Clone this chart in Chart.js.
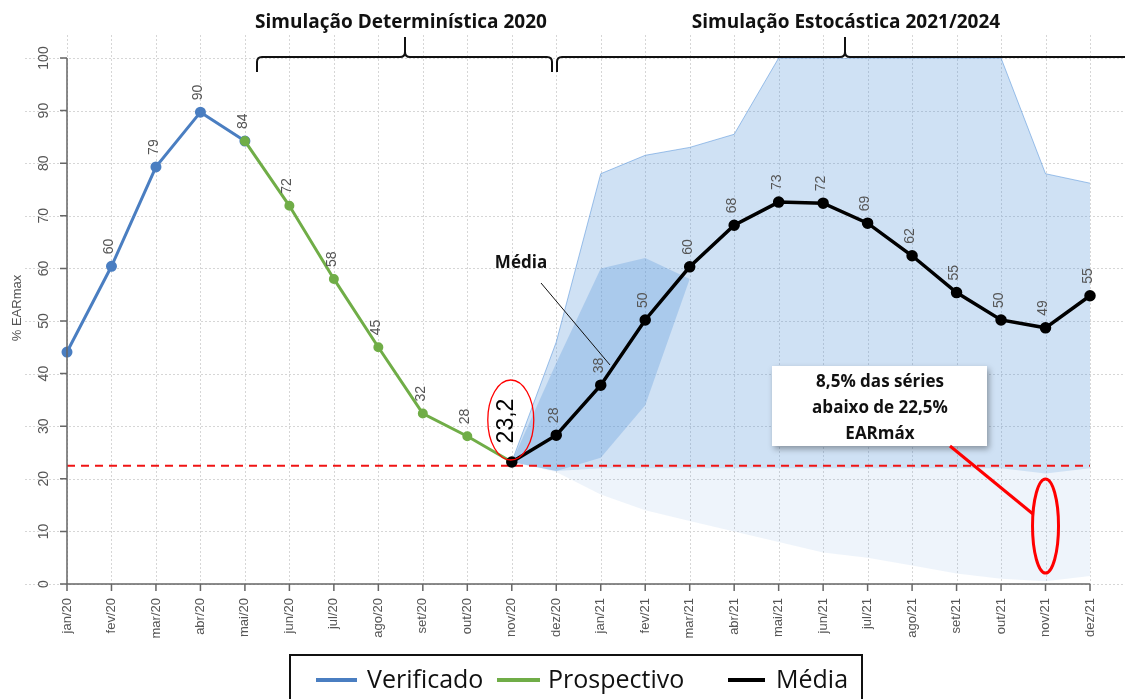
<!DOCTYPE html>
<html>
<head>
<meta charset="utf-8">
<script src="https://cdn.jsdelivr.net/npm/chart.js@4.4.1/dist/chart.umd.min.js"></script>
<style>
  html, body { margin: 0; padding: 0; background: #fff; }
  #wrap { width: 1125px; height: 699px; }
</style>
</head>
<body>
<div id="wrap"><canvas id="plot" width="1125" height="699"></canvas></div>
<script>
// categories
const months = ['jan/20','fev/20','mar/20','abr/20','mai/20','jun/20','jul/20','ago/20','set/20','out/20','nov/20','dez/20',
                'jan/21','fev/21','mar/21','abr/21','mai/21','jun/21','jul/21','ago/21','set/21','out/21','nov/21','dez/21'];
const yTicks = [0,10,20,30,40,50,60,70,80,90,100];

// series (% EARmax)
const verificado = [44.1,60.4,79.3,89.7,84.2,null,null,null,null,null,null,null,null,null,null,null,null,null,null,null,null,null,null,null];
const prospectivo = [null,null,null,null,84.2,71.9,58.0,45.0,32.4,28.1,23.2,null,null,null,null,null,null,null,null,null,null,null,null,null];
const media = [null,null,null,null,null,null,null,null,null,null,23.2,28.3,37.8,50.2,60.3,68.2,72.6,72.4,68.6,62.4,55.4,50.2,48.7,54.8];
const threshold = [22.5,22.5,22.5,22.5,22.5,22.5,22.5,22.5,22.5,22.5,22.5,22.5,22.5,22.5,22.5,22.5,22.5,22.5,22.5,22.5,22.5,22.5,22.5,22.5];

// stochastic fan envelopes
const fanUpper = [null,null,null,null,null,null,null,null,null,null,23.2,46,78,81.5,83,85.5,100,100,100,100,100,100,78,76.2];
const fanLower = [null,null,null,null,null,null,null,null,null,null,23.2,21.3,17,14,12,10,8,6,5,3.5,2,1,0.5,1.5];
const denseLower = [null,null,null,null,null,null,null,null,null,null,23.2,21.5,22,22,22,22,22,22,22,22,22,22,21,22];
const coreUpper = [null,null,null,null,null,null,null,null,null,null,23.2,42,60,62,58,null,null,null,null,null,null,null,null,null];
const coreLower = [null,null,null,null,null,null,null,null,null,null,23.2,21.5,24,34,58,null,null,null,null,null,null,null,null,null];

const verifLabelIdx = [1,2,3,4];
const prospLabelIdx = [5,6,7,8,9];
const mediaLabelIdx = [11,12,13,14,15,16,17,18,19,20,21,22,23];

const BLUE = 'rgb(74,126,193)';
const GREEN = 'rgb(112,173,71)';
const FAN = 'rgba(86,148,218,';
const SANS = '"Liberation Sans", Arial, sans-serif';
const BOLD = '"Open Sans", "Liberation Sans", sans-serif';

function ellipse(ctx, cx, cy, rx, ry) {
  ctx.beginPath();
  ctx.ellipse(cx, cy, rx, ry, 0, 0, Math.PI * 2);
  ctx.stroke();
}

function bracket(ctx, x0, x1, xm, open) {
  ctx.beginPath();
  ctx.moveTo(x0, 72);
  ctx.lineTo(x0, 62);
  ctx.quadraticCurveTo(x0, 57, x0 + 5, 57);
  ctx.lineTo(xm - 5, 57);
  ctx.quadraticCurveTo(xm, 57, xm, 52);
  ctx.lineTo(xm, 37);
  ctx.moveTo(xm, 52);
  ctx.quadraticCurveTo(xm, 57, xm + 5, 57);
  if (open) {
    ctx.lineTo(x1, 57);
  } else {
    ctx.lineTo(x1 - 5, 57);
    ctx.quadraticCurveTo(x1, 57, x1, 62);
    ctx.lineTo(x1, 72);
  }
  ctx.stroke();
}

const decorPlugin = {
  id: 'decor',
  beforeDraw(chart) {
    const ctx = chart.ctx;
    const xs = chart.scales.x, ys = chart.scales.y;
    ctx.save();
    ctx.fillStyle = '#fff';
    ctx.fillRect(0, 0, chart.width, chart.height);
    // dotted grid
    ctx.strokeStyle = '#d6d6d6';
    ctx.lineWidth = 1;
    ctx.setLineDash([2, 2]);
    yTicks.forEach(v => {
      const y = Math.round(ys.getPixelForValue(v)) + 0.5;
      ctx.beginPath(); ctx.moveTo(25, y); ctx.lineTo(chart.width, y); ctx.stroke();
    });
    months.forEach((m, i) => {
      const x = Math.round(xs.getPixelForValue(i)) + 0.5;
      ctx.beginPath(); ctx.moveTo(x, 35); ctx.lineTo(x, ys.bottom); ctx.stroke();
    });
    ctx.restore();
  },
  afterDraw(chart) {
    const ctx = chart.ctx;
    const xs = chart.scales.x, ys = chart.scales.y;
    ctx.save();

    // axes
    ctx.strokeStyle = '#666';
    ctx.lineWidth = 1.5;
    ctx.beginPath();
    ctx.moveTo(xs.left, ys.getPixelForValue(100));
    ctx.lineTo(xs.left, ys.bottom);
    ctx.moveTo(xs.left, ys.bottom);
    ctx.lineTo(xs.right, ys.bottom);
    yTicks.forEach(v => {
      const y = ys.getPixelForValue(v);
      ctx.moveTo(xs.left - 7, y); ctx.lineTo(xs.left, y);
    });
    months.forEach((m, i) => {
      const x = xs.getPixelForValue(i);
      ctx.moveTo(x, ys.bottom); ctx.lineTo(x, ys.bottom + 7);
    });
    ctx.stroke();

    // tick labels
    ctx.fillStyle = '#555';
    ctx.font = '14px ' + SANS;
    ctx.textBaseline = 'middle';
    yTicks.forEach(v => {
      ctx.save();
      ctx.translate(44, ys.getPixelForValue(v));
      ctx.rotate(-Math.PI / 2);
      ctx.textAlign = 'center';
      ctx.fillText(String(v), 0, 0);
      ctx.restore();
    });
    ctx.font = '13px ' + SANS;
    months.forEach((m, i) => {
      ctx.save();
      ctx.translate(xs.getPixelForValue(i), 598);
      ctx.rotate(-Math.PI / 2);
      ctx.textAlign = 'right';
      ctx.fillText(m, 0, 0);
      ctx.restore();
    });

    // axis title
    ctx.save();
    ctx.translate(17, 308);
    ctx.rotate(-Math.PI / 2);
    ctx.textAlign = 'center';
    ctx.font = '13px ' + SANS;
    ctx.fillText('% EARmax', 0, 0);
    ctx.restore();

    // value labels above points
    const drawLabels = (dsIndex, idxs) => {
      const meta = chart.getDatasetMeta(dsIndex);
      const data = chart.data.datasets[dsIndex].data;
      idxs.forEach(i => {
        const p = meta.data[i];
        ctx.save();
        ctx.translate(p.x - 2, p.y - 12);
        ctx.rotate(-Math.PI / 2);
        ctx.textAlign = 'left';
        ctx.textBaseline = 'middle';
        ctx.fillStyle = '#555';
        ctx.font = '14px ' + SANS;
        ctx.fillText(String(Math.round(data[i])), 0, 0);
        ctx.restore();
      });
    };
    drawLabels(2, verifLabelIdx);
    drawLabels(1, prospLabelIdx);
    drawLabels(0, mediaLabelIdx);

    // brackets and section titles
    ctx.strokeStyle = '#111';
    ctx.lineWidth = 2;
    bracket(ctx, 257, 552, 405, false);
    bracket(ctx, 557, chart.width, 845, true);
    ctx.fillStyle = '#111';
    ctx.font = 'bold 19px ' + BOLD;
    ctx.textAlign = 'center';
    ctx.textBaseline = 'middle';
    ctx.fillText('Simulação Determinística 2020', 401, 23);
    ctx.fillText('Simulação Estocástica 2021/2024', 846, 23);

    // Média callout
    ctx.font = 'bold 17px ' + BOLD;
    ctx.fillText('Média', 521, 263);
    ctx.lineWidth = 1;
    ctx.beginPath(); ctx.moveTo(541, 283); ctx.lineTo(610, 365); ctx.stroke();

    // 23,2 callout
    const nx = xs.getPixelForValue(10);
    ctx.strokeStyle = 'red';
    ctx.lineWidth = 1.3;
    ellipse(ctx, nx - 1, 420, 23, 40);
    ctx.save();
    ctx.translate(nx - 5, 421);
    ctx.rotate(-Math.PI / 2);
    ctx.fillStyle = '#000';
    ctx.font = '23px ' + SANS;
    ctx.fillText('23,2', 0, 0);
    ctx.restore();

    // note box
    ctx.save();
    ctx.shadowColor = 'rgba(0,0,0,0.35)';
    ctx.shadowBlur = 6;
    ctx.shadowOffsetX = 2;
    ctx.shadowOffsetY = 3;
    ctx.fillStyle = '#fff';
    ctx.fillRect(772, 366, 215, 80);
    ctx.restore();
    ctx.fillStyle = '#111';
    ctx.font = 'bold 17px ' + BOLD;
    ctx.fillText('8,5% das séries', 880, 382);
    ctx.fillText('abaixo de 22,5%', 880, 408);
    ctx.fillText('EARmáx', 880, 434);
    ctx.strokeStyle = 'red';
    ctx.lineWidth = 3;
    ctx.beginPath(); ctx.moveTo(950, 446); ctx.lineTo(1033, 514); ctx.stroke();
    ellipse(ctx, xs.getPixelForValue(22), 526, 13, 47);

    // legend
    ctx.strokeStyle = '#111';
    ctx.lineWidth = 2;
    ctx.fillStyle = '#fff';
    ctx.fillRect(290, 655, 572, 50);
    ctx.strokeRect(290, 655, 572, 50);
    const items = [[BLUE, 'Verificado', 316, 357, 367], [GREEN, 'Prospectivo', 497, 540, 548], ['#000', 'Média', 728, 765, 776]];
    ctx.font = '25px ' + BOLD;
    ctx.textAlign = 'left';
    items.forEach(([c, t, a, b, tx]) => {
      ctx.strokeStyle = c;
      ctx.lineWidth = 4;
      ctx.beginPath(); ctx.moveTo(a, 680); ctx.lineTo(b, 680); ctx.stroke();
      ctx.fillStyle = '#111';
      ctx.fillText(t, tx, 681);
    });
    ctx.restore();
  }
};

const band = (data, fillAlpha, border) => ({
  data: data,
  borderColor: border || 'rgba(0,0,0,0)',
  borderWidth: border ? 1 : 0,
  pointRadius: 0,
  fill: '+1',
  backgroundColor: FAN + fillAlpha + ')',
  tension: 0
});
const edge = data => ({ data: data, borderWidth: 0, borderColor: 'rgba(0,0,0,0)', pointRadius: 0, fill: false });

const datasets = [
  { label: 'Média', data: media, borderColor: '#000', backgroundColor: '#000', borderWidth: 3.5, pointRadius: 4, fill: false },
  { label: 'Prospectivo', data: prospectivo, borderColor: GREEN, backgroundColor: GREEN, borderWidth: 3, pointRadius: 3.5, fill: false },
  { label: 'Verificado', data: verificado, borderColor: BLUE, backgroundColor: BLUE, borderWidth: 3, pointRadius: 4, fill: false },
  { label: 'limite', data: threshold, borderColor: 'rgb(240,20,20)', borderWidth: 2, borderDash: [8, 6], pointRadius: 0, fill: false },
  band(coreUpper, 0.3),
  edge(coreLower),
  band(fanUpper, 0.2, FAN + '0.55)'),
  edge(denseLower),
  band(fanUpper, 0.1),
  edge(fanLower)
];

new Chart(document.getElementById('plot').getContext('2d'), {
  type: 'line',
  data: { labels: months, datasets: datasets },
  options: {
    responsive: false,
    animation: false,
    events: [],
    layout: { padding: { left: 0, top: 58, right: 35, bottom: 0 } },
    plugins: { legend: { display: false }, tooltip: { enabled: false } },
    elements: { line: { tension: 0 } },
    scales: {
      x: {
        type: 'category', offset: false,
        grid: { display: false }, border: { display: false },
        ticks: { display: false },
        afterFit: s => { s.height = 115; }
      },
      y: {
        min: 0, max: 100,
        grid: { display: false }, border: { display: false },
        ticks: { display: false },
        afterFit: s => { s.width = 67; }
      }
    }
  },
  plugins: [decorPlugin]
});
</script>
</body>
</html>
